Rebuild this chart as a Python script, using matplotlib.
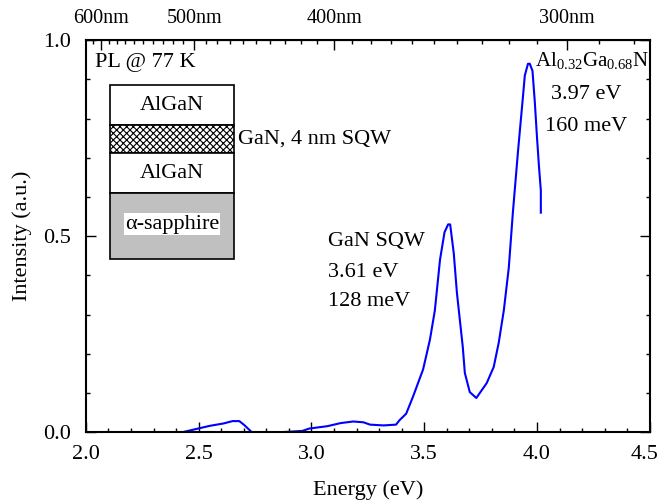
import matplotlib
matplotlib.use("Agg")
import matplotlib.pyplot as plt
import matplotlib.patches as mpatches
import matplotlib.transforms as mtransforms
import numpy as np

plt.rcParams['font.family'] = ['Liberation Serif', 'DejaVu Serif']
plt.rcParams['mathtext.fontset'] = 'custom'
plt.rcParams['mathtext.rm'] = 'Liberation Serif'
plt.rcParams['mathtext.it'] = 'Liberation Serif:italic'
plt.rcParams['hatch.linewidth'] = 0.8

# PL spectrum (NaN = gap in the trace)
energy = [2.43, 2.49, 2.55, 2.61, 2.65, 2.68, 2.70, 2.735, np.nan,
          2.875, 2.96, 2.99, 3.07, 3.13, 3.185, 3.23, 3.26, 3.32, 3.375,
          3.39, 3.42, 3.45, 3.495, 3.525, 3.547, 3.57, 3.59, 3.606, 3.615,
          3.631, 3.645, 3.658, 3.671, 3.68, 3.702, 3.731, 3.777, 3.808,
          3.83, 3.853, 3.875, 3.893, 3.916, 3.927, 3.936, 3.946, 3.96,
          3.968, 3.98, 3.99, 4.0, 4.009, 4.017, 4.017]
intensity = [0.0, 0.008, 0.016, 0.022, 0.028, 0.028, 0.019, 0.0, np.nan,
             0.0, 0.003, 0.009, 0.015, 0.023, 0.027, 0.025, 0.019, 0.017, 0.019,
             0.03, 0.047, 0.09, 0.16, 0.235, 0.31, 0.44, 0.51, 0.53, 0.53,
             0.456, 0.355, 0.286, 0.217, 0.151, 0.102, 0.087, 0.125, 0.166,
             0.227, 0.311, 0.42, 0.56, 0.718, 0.788, 0.845, 0.91, 0.94,
             0.94, 0.922, 0.845, 0.752, 0.676, 0.617, 0.56]

wl_major = [600, 500, 400, 300]
wl_minor = [w for w in range(280, 620, 10) if w not in wl_major]

FS = 16

fig = plt.figure(figsize=(6.61, 5.03), dpi=100)
ax = fig.add_axes([0.130, 0.141, 0.853, 0.779])

ax.plot(energy, intensity, color='#0000ff', lw=1.5)

ax.set_xlim(2.0, 4.5)
ax.set_ylim(0.0, 1.0)
ax.set_xticks(np.arange(2.0, 4.51, 0.5))
ax.set_xticks(np.arange(2.0, 4.51, 0.1), minor=True)
ax.set_yticks([0.0, 0.5, 1.0])
ax.set_yticks(np.arange(0.0, 1.01, 0.1), minor=True)
ax.xaxis.set_major_formatter(matplotlib.ticker.FormatStrFormatter('%.1f'))
ax.yaxis.set_major_formatter(matplotlib.ticker.FormatStrFormatter('%.1f'))
ax.tick_params(which='both', direction='in', top=False, right=True, labelsize=FS)
ax.tick_params(axis='x', pad=9)
ax.tick_params(axis='y', pad=11)
ax.tick_params(which='major', length=7, width=1)
ax.tick_params(which='minor', length=3, width=1)
for s in ax.spines.values():
    s.set_linewidth(1.5)

ax.set_xlabel('Energy (eV)', fontsize=FS, labelpad=12)
ax.set_ylabel('Intensity (a.u.)', fontsize=FS, labelpad=8)

# keep the last bottom label inside the canvas
fig.canvas.draw()
last = ax.get_xticklabels()[-1]
last.set_transform(last.get_transform() +
                   mtransforms.ScaledTranslation(-4 / 72, 0, fig.dpi_scale_trans))

top = ax.secondary_xaxis('top', functions=(lambda e: 1240.0 / e, lambda w: 1240.0 / w))
top.set_xticks(wl_major)
top.set_xticks(wl_minor, minor=True)
top.set_xticklabels([f'{w}nm' for w in wl_major])
top.tick_params(which='both', direction='in', labelsize=14.5, pad=9)
top.tick_params(which='major', length=7, width=1)
top.tick_params(which='minor', length=3, width=1)

# layer schematic
bx, bw = 0.0426, 0.220
layers = [(0.783, 0.885, 'white', None),
          (0.712, 0.783, 'white', 'xxxxx'),
          (0.610, 0.712, 'white', None),
          (0.441, 0.610, '#c0c0c0', None)]
for y0, y1, fc, h in layers:
    ax.add_patch(mpatches.Rectangle((bx, y0), bw, y1 - y0, transform=ax.transAxes,
                                    facecolor=fc, edgecolor='black', hatch=h,
                                    lw=1.2, zorder=3))
ax.text(bx + bw / 2, 0.834, 'AlGaN', transform=ax.transAxes, ha='center',
        va='center', fontsize=FS, zorder=4)
ax.text(bx + bw / 2, 0.661, 'AlGaN', transform=ax.transAxes, ha='center',
        va='center', fontsize=FS, zorder=4)
ax.text(bx + bw / 2, 0.531, 'α-sapphire', transform=ax.transAxes, ha='center',
        va='center', fontsize=FS, zorder=4,
        bbox=dict(facecolor='white', edgecolor='none', pad=1))
ax.text(0.270, 0.747, 'GaN, 4 nm SQW', transform=ax.transAxes, ha='left',
        va='center', fontsize=FS)
ax.text(0.016, 0.944, 'PL @ 77 K', transform=ax.transAxes, ha='left',
        va='center', fontsize=FS)

ax.text(0.429, 0.487, 'GaN SQW', transform=ax.transAxes, ha='left', va='center', fontsize=FS)
ax.text(0.429, 0.408, '3.61 eV', transform=ax.transAxes, ha='left', va='center', fontsize=FS)
ax.text(0.429, 0.332, '128 meV', transform=ax.transAxes, ha='left', va='center', fontsize=FS)

ax.text(0.796, 0.949, r'Al$_{0.32}$Ga$_{0.68}$N', transform=ax.transAxes, ha='left',
        va='center', fontsize=15)
ax.text(0.887, 0.862, '3.97 eV', transform=ax.transAxes, ha='center', va='center', fontsize=FS)
ax.text(0.887, 0.781, '160 meV', transform=ax.transAxes, ha='center', va='center', fontsize=FS)

fig.savefig('out.png', dpi=100)
